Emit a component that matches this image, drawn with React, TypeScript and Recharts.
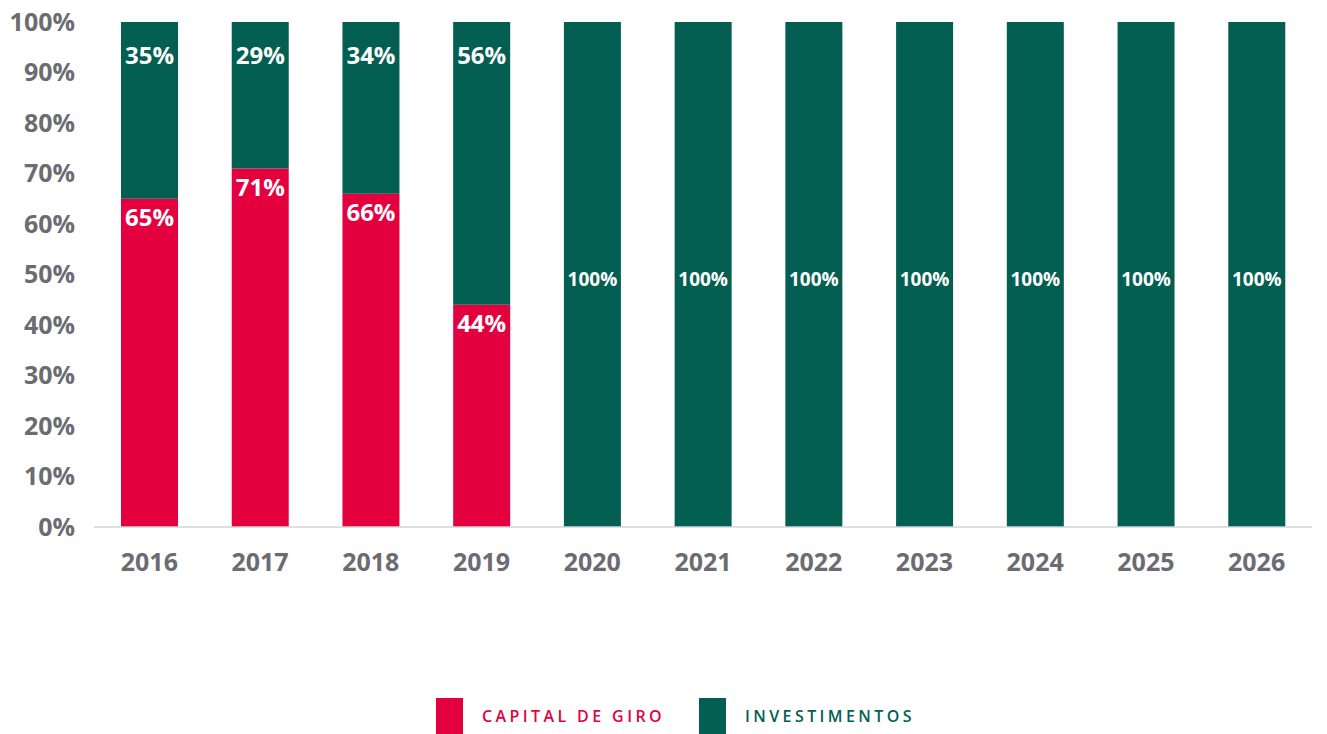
import React from 'react';
import { BarChart, Bar, XAxis, YAxis, Legend, LabelList } from 'recharts';

const years = ['2016', '2017', '2018', '2019', '2020', '2021', '2022', '2023', '2024', '2025', '2026'];
const capitalDeGiro = [65, 71, 66, 44, 0, 0, 0, 0, 0, 0, 0];
const investimentos = [35, 29, 34, 56, 100, 100, 100, 100, 100, 100, 100];
const yTicks = [0, 10, 20, 30, 40, 50, 60, 70, 80, 90, 100];

const RED = '#e4003f';
const GREEN = '#035f52';
const GRAY = '#6b6c72';
const FONT = '"Open Sans", "Noto Sans", sans-serif';

const data = years.map((year, i) => ({
  year,
  capital: capitalDeGiro[i],
  invest: investimentos[i],
}));

// rótulo do segmento vermelho: logo abaixo do topo
const CapitalLabel = (props: any) => {
  const { x, y, width, value } = props;
  if (!value) return null;
  return (
    <text
      x={x + width / 2}
      y={y + 18}
      fill="#fff"
      textAnchor="middle"
      dominantBaseline="central"
      fontFamily={FONT}
      fontWeight={700}
      fontSize={24}
    >
      {`${value}%`}
    </text>
  );
};

// rótulo do segmento verde: 100% centralizado e menor
const InvestLabel = (props: any) => {
  const { x, y, width, height, value } = props;
  if (!value) return null;
  const full = value === 100;
  return (
    <text
      x={x + width / 2}
      y={full ? y + height / 2 + 4.5 : y + 32}
      fill="#fff"
      textAnchor="middle"
      dominantBaseline="central"
      fontFamily={FONT}
      fontWeight={700}
      fontSize={full ? 19 : 24}
    >
      {`${value}%`}
    </text>
  );
};

const CustomLegend = () => {
  const items = [
    { label: 'CAPITAL DE GIRO', color: RED },
    { label: 'INVESTIMENTOS', color: GREEN },
  ];
  return (
    <div style={{ height: 147, position: 'relative' }}>
      <div
        style={{
          position: 'absolute',
          left: 436,
          top: 111,
          display: 'flex',
          alignItems: 'center',
        }}
      >
        {items.map((it, i) => (
          <div
            key={it.label}
            style={{ display: 'flex', alignItems: 'center', marginRight: i === 0 ? 34 : 0 }}
          >
            <div style={{ width: 27, height: 36, background: it.color }} />
            <span
              style={{
                marginLeft: 19,
                color: it.color,
                fontFamily: FONT,
                fontWeight: 600,
                fontSize: 16,
                letterSpacing: 3.4,
                whiteSpace: 'nowrap',
              }}
            >
              {it.label}
            </span>
          </div>
        ))}
      </div>
    </div>
  );
};

export default function App() {
  return (
    <div style={{ position: 'absolute', left: 0, top: 0, background: '#fff' }}>
      <BarChart
        width={1327}
        height={734}
        data={data}
        margin={{ top: 22, right: 15, left: 0, bottom: 0 }}
        barSize={57}
      >
        <XAxis
          dataKey="year"
          axisLine={{ stroke: '#d3d5da', strokeWidth: 1.5 }}
          tickLine={false}
          tickSize={0}
          tickMargin={26}
          height={60}
          tick={{ fill: GRAY, fontSize: 25, fontWeight: 700, fontFamily: FONT }}
        />
        <YAxis
          type="number"
          domain={[0, 100]}
          ticks={yTicks}
          interval={0}
          width={94}
          axisLine={false}
          tickLine={false}
          tickSize={0}
          tickMargin={19}
          tickFormatter={(v) => `${v}%`}
          tick={{ fill: GRAY, fontSize: 25, fontWeight: 700, fontFamily: FONT }}
        />
        <Legend verticalAlign="bottom" content={<CustomLegend />} />
        <Bar dataKey="capital" name="CAPITAL DE GIRO" stackId="a" fill={RED} isAnimationActive={false}>
          <LabelList dataKey="capital" content={<CapitalLabel />} />
        </Bar>
        <Bar dataKey="invest" name="INVESTIMENTOS" stackId="a" fill={GREEN} isAnimationActive={false}>
          <LabelList dataKey="invest" content={<InvestLabel />} />
        </Bar>
      </BarChart>
    </div>
  );
}
